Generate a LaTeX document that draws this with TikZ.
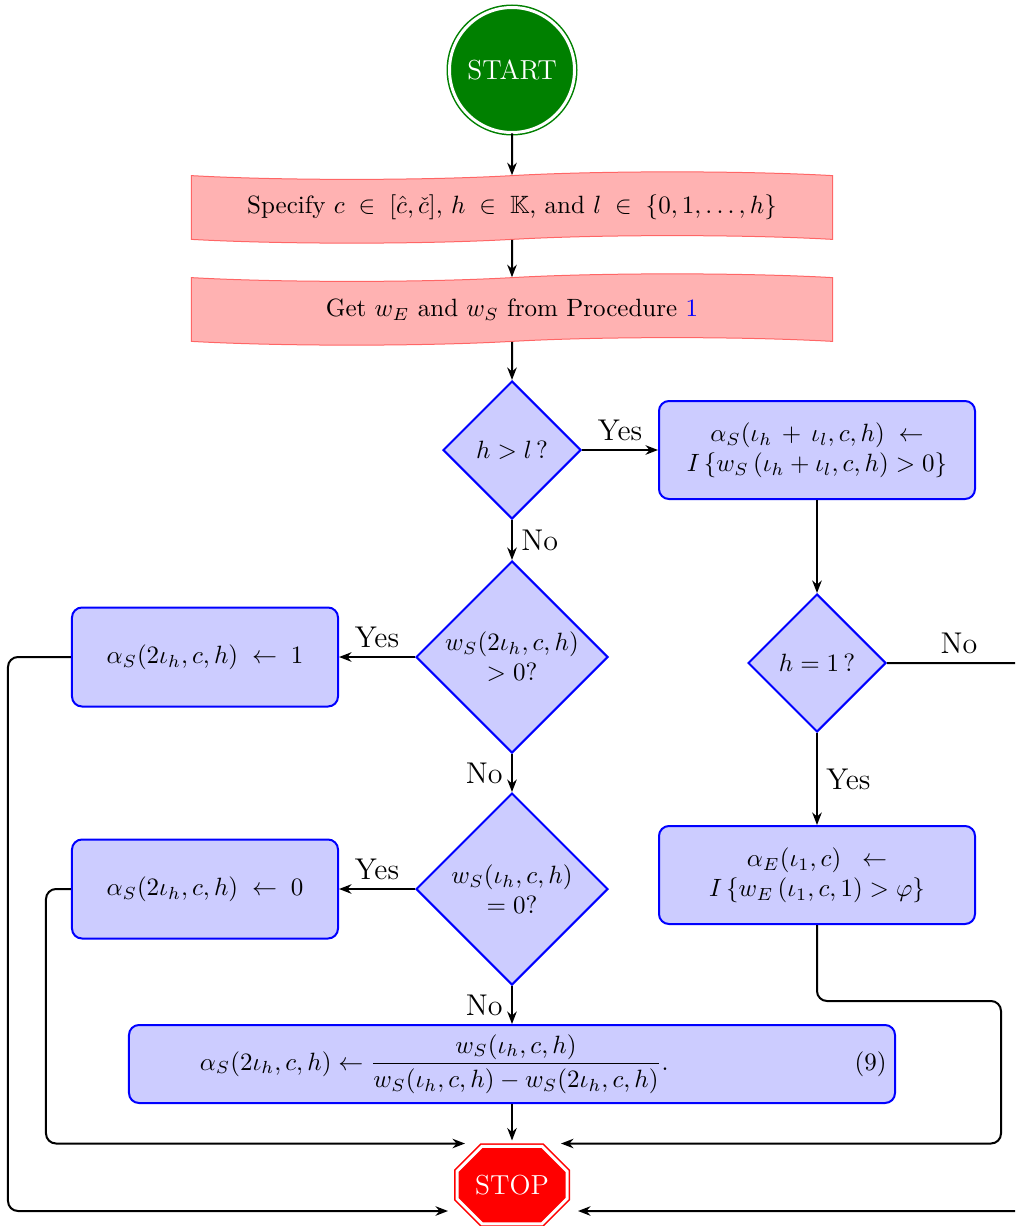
\documentclass[tikz,border=0pt]{standalone}
\usepackage{amsmath,amssymb}
\usetikzlibrary{shapes.geometric,shapes.symbols,shapes.misc,calc,arrows.meta}
\begin{document}
\begin{tikzpicture}[x=0.4pt,y=-0.4pt,
  proc/.style={rectangle, rounded corners=4pt, draw=blue, line width=0.8pt, fill=blue!20, align=center},
  dec/.style={diamond, aspect=1, draw=blue, line width=0.8pt, fill=blue!20, inner sep=0pt, align=center},
  io/.style={tape, draw=red!60, fill=red!30, line width=0.4pt, minimum width=256.4pt, minimum height=28.5pt, tape bend height=3pt},
  startnode/.style={circle, minimum size=50pt, inner sep=0pt, fill=green!50!black, draw=green!50!black, double=white, double distance=1.2pt, line width=0.6pt, text=white},
  stopnode/.style={chamfered rectangle, chamfered rectangle xsep=6pt, chamfered rectangle ysep=6pt, minimum width=44pt, minimum height=31pt, inner sep=0pt, fill=red, draw=red, double=white, double distance=1.2pt, line width=0.6pt, text=white},
  arr/.style={-{Stealth[length=5pt,width=3.8pt]}, line width=0.8pt, rounded corners=4pt},
  lbl/.style={font=\large},
]
\useasboundingbox (0,0) rectangle (1015,1226);
\clip (0,0) rectangle (1015,1226);

\node[startnode, font=\fontsize{11}{13}\selectfont] (start) at (512,70) {START};
\node[io] (t1) at (512,207.5) {Specify $c\;\in\;[\hat{c},\check{c}]$, $h\;\in\;\mathbb{K}$, and $l\;\in\;\{0,1,\ldots,h\}$};
\node[io] (t2) at (512,309.5) {Get $w_E$ and $w_S$ from Procedure \textcolor{blue}{1}};
\node[dec, minimum size=55.2pt] (d1) at (512,450) {$h>l$\,?};
\node[proc, minimum width=126.4pt, minimum height=39.2pt] (r1) at (817,450) {$\alpha_S(\iota_h\,+\,\iota_l,c,h)\;\leftarrow$\\$I\left\{w_S\left(\iota_h+\iota_l,c,h\right)>0\right\}$};
\node[dec, minimum size=76.8pt] (d2) at (512,657) {$w_S(2\iota_h,c,h)$\\$>0$?};
\node[proc, minimum width=106.4pt, minimum height=39.6pt] (l1) at (205,657) {$\alpha_S(2\iota_h,c,h)\;\leftarrow\;1$};
\node[dec, minimum size=55.2pt] (d3) at (817,663) {$h=1$\,?};
\node[dec, minimum size=76.8pt] (d4) at (512,889) {$w_S(\iota_h,c,h)$\\$=0$?};
\node[proc, minimum width=106.4pt, minimum height=39.6pt] (l2) at (205,889) {$\alpha_S(2\iota_h,c,h)\;\leftarrow\;0$};
\node[proc, minimum width=126.4pt, minimum height=39.2pt] (r2) at (817,875) {$\alpha_E(\iota_1,c)\;\;\leftarrow$\\$I\left\{w_E\left(\iota_1,c,1\right)>\varphi\right\}$};
\node[proc, minimum width=306.4pt, minimum height=31.2pt, text width=299.7pt, align=left] (eq) at (512,1064) {\hspace*{25pt}$\displaystyle\alpha_S(2\iota_h,c,h)\leftarrow\frac{w_S(\iota_h,c,h)}{w_S(\iota_h,c,h)-w_S(2\iota_h,c,h)}.$\hfill(9)};
\node[stopnode, font=\fontsize{11}{13}\selectfont] (stop) at (512,1185) {STOP};

\coordinate (sNW) at ($(stop.north)+(-47,-2)$);
\coordinate (sNE) at ($(stop.north)+(49,-2)$);
\coordinate (sSW) at ($(stop.center)+(-64,26)$);
\coordinate (sSE) at ($(stop.center)+(66,26)$);

\draw[arr] (start) -- (t1);
\draw[arr] (t1) -- (t2);
\draw[arr] (t2) -- (d1);
\draw[arr] (d1.east) -- node[lbl, above]{Yes} (r1.west);
\draw[arr] (d1.south) -- node[lbl, right]{No} (d2.north);
\draw[arr] (d2.west) -- node[lbl, above]{Yes} (l1.east);
\draw[arr] (d2.south) -- node[lbl, left]{No} (d4.north);
\draw[arr] (d4.west) -- node[lbl, above]{Yes} (l2.east);
\draw[arr] (d4.south) -- node[lbl, left]{No} (eq.north);
\draw[arr, shorten >=2pt] (eq.south) -- (stop.north);
\draw[arr] (r1.south) -- (d3.north);
\draw[arr] (d3.south) -- node[lbl, right]{Yes} (r2.north);
\draw[arr] (d3.east) -- node[lbl, above]{No} ++(144,0) |- (sSE);
\draw[arr] (r2.south) -- ++(0,76) -- ++(184,0) |- (sNE);
\draw[arr] (l1.west) -- ++(-63,0) |- (sSW);
\draw[arr] (l2.west) -- ++(-25,0) |- (sNW);
\end{tikzpicture}
\end{document}
